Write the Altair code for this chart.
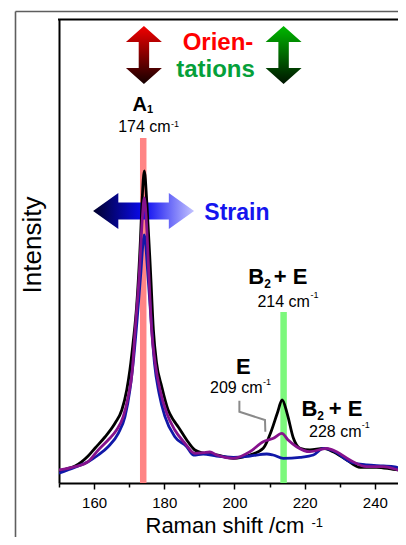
import altair as alt
import pandas as pd

# ---------------- data ----------------
# Raman shift (cm-1) and intensity (arb. units) of the three spectra
black_x = [150, 152, 154.6, 158.3, 160.3, 163.1, 166.0, 167.9, 169.3, 170.2, 171.2, 172.1, 173.2, 173.6, 174.3,
           175.1, 176.1, 176.9, 177.8, 179.3, 181.1, 182.6, 184.0, 186.4, 188.7, 191.1, 194.9, 199.7, 204.4,
           208.2, 210.6, 212.2, 213.6, 215.0, 216.8, 218.7, 221.5, 225.3, 228.1, 232.0, 235.8, 240.5, 245.2, 248.6]
black_y = [11.5, 14, 17, 27, 35, 46, 60, 73, 93, 113, 143, 176, 243, 276, 312,
           276, 210, 153, 120, 96, 73, 63, 56, 43, 33, 30, 28, 24.7, 28,
           34.7, 53, 69.7, 83, 69.7, 44.7, 34.7, 33, 34.7, 31.3, 23, 15.7, 15.7, 13.7, 12.3]

purple_x = [150, 154.6, 158.3, 161.2, 164.0, 166.4, 168.3, 169.7, 170.9, 171.7, 172.9, 173.7, 174.3, 174.9,
            175.6, 176.4, 177.4, 178.8, 180.7, 183.0, 185.9, 188.7, 191.1, 193.0, 194.9, 199.7, 204.4, 208.2,
            211.1, 213.5, 215.3, 217.7, 221.5, 226.3, 229.1, 232.9, 237.7, 242.4, 245.7, 248.6]
purple_y = [13, 16.3, 21.3, 33, 43, 53, 66.3, 86.3, 113, 153, 209.7, 262, 285, 262,
            209.7, 153, 120, 93, 69.7, 53, 39.7, 29.7, 30.3, 31, 28, 24.7, 31.3, 41.3,
            44.7, 49.7, 43, 36.3, 31.3, 34.7, 31.3, 23, 16.3, 16.3, 14, 10.3]

blue_x = [150, 154.6, 158.3, 161.2, 164.0, 166.9, 168.8, 170.2, 171.3, 172.3, 173.2, 174.3, 175.4, 176.2,
          177.2, 178.5, 180.2, 183.0, 186.4, 188.3, 191.1, 194.9, 199.7, 204.4, 209.2, 211.0, 213.9, 218.7,
          222.5, 225.3, 228.1, 232.9, 237.7, 242.4, 245.7, 248.6]
blue_y = [9.7, 15.7, 21.3, 28, 36.3, 49.7, 66.3, 93, 126, 165, 205, 248, 205, 165,
          120, 90, 66.3, 46.3, 36.3, 28, 29, 27, 25.7, 27, 29, 28, 24.7, 25.7,
          28, 34.7, 32.3, 21.3, 18, 17, 16, 13.7]

tick_values = [150, 160, 170, 180, 190, 200, 210, 220, 230, 240]
x_domain = [150, 246.6]
y_domain = [0, 464]

# marker bands (peak position, top of band)
band_x = [174, 214]
band_top = [345, 171]
band_colors = ["#ff8585", "#7cf87c"]

# annotation texts
texts = {
    "orien": "Orien-", "tations": "tations", "A": "A", "sub1": "1", "c174": "174 cm", "sup": "-1",
    "B": "B", "sub2": "2", "plusE": "+ E", "c214": "214 cm", "E": "E", "c209": "209 cm", "c228": "228 cm",
    "strain": "Strain", "xtitle": "Raman shift /cm", "ytitle": "Intensity",
}
bracket_x = [201.4, 201.4, 208.7, 208.8]
bracket_y = [82.3, 71.3, 63, 51.3]

# ---------------- chart ----------------
FONT = "Liberation Sans"
xscale = alt.Scale(domain=x_domain, nice=False, zero=False)
yscale = alt.Scale(domain=y_domain, nice=False, zero=False)
xaxis = alt.Axis(values=tick_values, title=None, grid=False,
                 labelExpr="datum.value % 20 == 0 ? datum.label : ''",
                 tickSize={"condition": {"test": "datum.value % 20 == 0", "value": 6}, "value": 4},
                 tickColor="black", tickWidth=1.5, domainColor="black", domainWidth=2,
                 labelFont=FONT, labelFontSize=15, labelColor="black", labelPadding=6,
                 labelOverlap=False, labelFlush=False)
yaxis = alt.Axis(title=None, grid=False, labels=False, ticks=False, domainColor="black", domainWidth=2)


def X(f):
    return alt.X(f, type="quantitative", scale=xscale, axis=xaxis)


def Y(f):
    return alt.Y(f, type="quantitative", scale=yscale, axis=yaxis)


def line(xs, ys, color):
    df = pd.DataFrame({"x": xs, "y": ys, "o": list(range(len(xs)))})
    return alt.Chart(df).mark_line(color=color, strokeWidth=2.8, interpolate="monotone", clip=True).encode(
        x=X("x"), y=Y("y"), order="o:Q")


def txt(text, x, y, size, bold=False, color="black", align="left"):
    df = pd.DataFrame({"x": [x], "y": [y], "t": [text]})
    return alt.Chart(df).mark_text(font=FONT, fontSize=size, fontWeight="bold" if bold else "normal",
                                   color=color, align=align, baseline="alphabetic").encode(
        x=X("x"), y=Y("y"), text="t:N")


def arrow(path, x, y, size, stops, vertical):
    grad = alt.LinearGradient(gradient="linear",
                              stops=[alt.GradientStop(offset=o, color=c) for o, c in stops],
                              x1=0, y1=0, x2=0 if vertical else 1, y2=1 if vertical else 0)
    df = pd.DataFrame({"x": [x], "y": [y]})
    return alt.Chart(df).mark_point(shape=path, size=size, filled=True, fill=grad, opacity=1,
                                    strokeWidth=0).encode(x=X("x"), y=Y("y"))


one = pd.DataFrame({"a": [0]})
frame_left = alt.Chart(one).mark_rule(color="#5e5e5e", strokeWidth=1.6).encode(
    x=alt.value(-43.5), y=alt.value(-7.5), y2=alt.value(530))
frame_top = alt.Chart(one).mark_rule(color="#5e5e5e", strokeWidth=1.6).encode(
    x=alt.value(-43.5), x2=alt.value(345), y=alt.value(-7.5))
plot_top = alt.Chart(one).mark_rule(color="black", strokeWidth=2).encode(
    x=alt.value(-1), x2=alt.value(345), y=alt.value(0.5))

bands = alt.Chart(pd.DataFrame({"x": band_x, "y0": [0, 0], "y1": band_top, "c": band_colors})).mark_rule(
    strokeWidth=6.5).encode(x=X("x"), y=Y("y0"), y2="y1", color=alt.Color("c:N", scale=None))

vpath = "M0,-1 L0.62,-0.45 L0.18,-0.45 L0.18,0.45 L0.62,0.45 L0,1 L-0.62,0.45 L-0.18,0.45 L-0.18,-0.45 L-0.62,-0.45 Z"
hpath = "M-1,0 L-0.5,-0.356 L-0.5,-0.17 L0.5,-0.17 L0.5,-0.356 L1,0 L0.5,0.356 L0.5,0.17 L-0.5,0.17 L-0.5,0.356 Z"
red_arrow = arrow(vpath, 174.2, 428, 3364, [(0, "#f20000"), (1, "#140000")], True)
green_arrow = arrow(vpath, 214.0, 428, 3364, [(0, "#00b800"), (1, "#001400")], True)
blue_arrow = arrow(hpath, 174.1, 272, 10201, [(0, "#00002a"), (0.5, "#0a0af0"), (1, "#c4c4ff")], False)

bracket = alt.Chart(pd.DataFrame({"x": bracket_x, "y": bracket_y, "o": [0, 1, 2, 3]})).mark_line(
    color="#8a8a8a", strokeWidth=2).encode(x=X("x"), y=Y("y"), order="o:Q")

labels = [
    txt(texts["orien"], 195.3, 433, 24, True, "#ff0000", "center"),
    txt(texts["tations"], 194.6, 406.5, 24, True, "#05a03a", "center"),
    txt(texts["strain"], 191.4, 263, 23, True, "#1515ee"),
    txt(texts["A"], 173.0, 372, 20, True, "black", "center"),
    txt(texts["sub1"], 175.1, 369.7, 11, True),
    txt(texts["c174"], 181.8, 351.3, 16, False, "black", "right"),
    txt(texts["sup"], 181.9, 355.6, 9),
    txt(texts["B"], 203.9, 198.7, 22, True),
    txt(texts["sub2"], 208.5, 195, 12, True),
    txt(texts["plusE"], 211.2, 198.7, 22, True),
    txt(texts["c214"], 221.5, 176.3, 16, False, "black", "right"),
    txt(texts["sup"], 221.7, 184.9, 9),
    txt(texts["E"], 202.5, 109.5, 22, True, "black", "center"),
    txt(texts["c209"], 208.0, 90.3, 16, False, "black", "right"),
    txt(texts["sup"], 208.1, 98.3, 9),
    txt(texts["B"], 219.1, 67.3, 22, True),
    txt(texts["sub2"], 223.6, 63.5, 12, True),
    txt(texts["plusE"], 226.9, 67.3, 22, True),
    txt(texts["c228"], 236.2, 46.3, 16, False, "black", "right"),
    txt(texts["sup"], 236.3, 54.9, 9),
]

xtitle = alt.Chart(one).mark_text(font=FONT, fontSize=22, align="left", baseline="alphabetic",
                                  color="black").encode(x=alt.value(86.5), y=alt.value(514),
                                                        text=alt.value(texts["xtitle"]))
xtitle_sup = alt.Chart(one).mark_text(font=FONT, fontSize=13, align="left", baseline="alphabetic",
                                      color="black").encode(x=alt.value(252.5), y=alt.value(507.5),
                                                            text=alt.value(texts["sup"]))
ytitle = alt.Chart(one).mark_text(font=FONT, fontSize=26, align="center", baseline="alphabetic", angle=270,
                                  color="black").encode(x=alt.value(-18.5), y=alt.value(226),
                                                        text=alt.value(texts["ytitle"]))

chart = alt.layer(
    frame_left, frame_top,
    bands,
    red_arrow, green_arrow, blue_arrow,
    line(black_x, black_y, "#000000"),
    line(blue_x, blue_y, "#1018a8"),
    line(purple_x, purple_y, "#86128c"),
    bracket,
    *labels,
    plot_top, xtitle, xtitle_sup, ytitle,
).properties(
    width=339, height=464,
    autosize=alt.AutoSizeParams(type="none"),
    padding={"left": 51, "top": 11, "right": 0, "bottom": 54},
).configure_view(stroke=None)

chart.save("out.html", embed_options={"renderer": "svg", "actions": False})
